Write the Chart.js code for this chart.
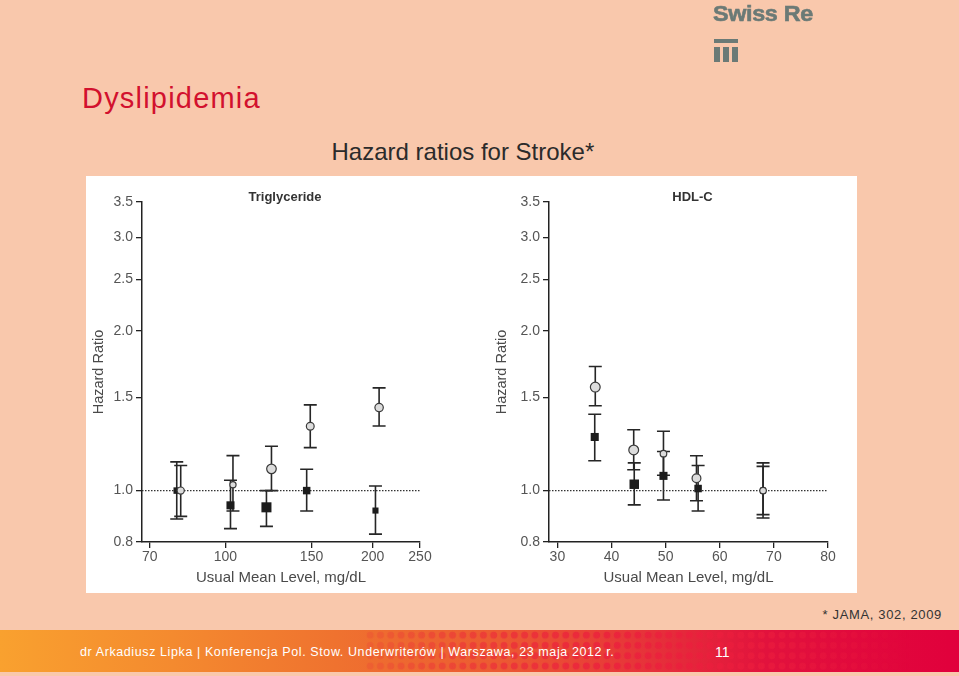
<!DOCTYPE html>
<html><head><meta charset="utf-8">
<script src="https://cdn.jsdelivr.net/npm/chart.js@4.4.1/dist/chart.umd.min.js"></script>
<style>
html,body{margin:0;padding:0;}
body{width:959px;height:676px;background:#F9C8AC;position:relative;overflow:hidden;font-family:"Liberation Sans",Arial,sans-serif;}
.abs{position:absolute;white-space:nowrap;}
#brand{left:713px;top:1.5px;font-weight:bold;font-size:22px;line-height:24px;letter-spacing:-0.3px;color:#6B7A76;-webkit-text-stroke:0.6px #6B7A76;transform:scaleX(1.06);transform-origin:left top;}
.lg{position:absolute;background:#6B7A76;}
#slideTitle{left:82px;top:83.5px;font-size:29px;line-height:29px;letter-spacing:1.2px;color:#D2112E;}
#chartTitle{left:331.5px;top:139.7px;font-size:24px;line-height:24px;color:#2b2b2b;}
#panel{left:86px;top:176px;width:771px;height:417px;background:#fff;}
#cL{position:absolute;left:86px;top:176px;}
#cR{position:absolute;left:489px;top:176px;}
#source{right:17px;top:607px;font-size:13px;line-height:16px;letter-spacing:0.65px;color:#333;}
#footer{left:0;top:630px;width:959px;height:42px;background:linear-gradient(90deg,#F9A12F 0%,#F48A2F 18%,#EF722F 35%,#EC5A32 52%,#E6313A 68%,#E2123D 80%,#E1003C 100%);}
#dots{left:365px;top:630px;width:545px;height:42px;
 background-image:radial-gradient(circle,rgba(236,30,62,0.75) 3.3px,rgba(236,30,62,0) 3.9px);
 background-size:10.3px 10.3px;background-position:0 0;
 -webkit-mask-image:linear-gradient(90deg,rgba(0,0,0,0.2) 0%,rgba(0,0,0,0.7) 25%,rgba(0,0,0,1) 45%,rgba(0,0,0,0.85) 72%,rgba(0,0,0,0) 100%);
 mask-image:linear-gradient(90deg,rgba(0,0,0,0.2) 0%,rgba(0,0,0,0.7) 25%,rgba(0,0,0,1) 45%,rgba(0,0,0,0.85) 72%,rgba(0,0,0,0) 100%);}
#footText{left:80px;top:644px;font-size:12.5px;line-height:16px;letter-spacing:0.6px;color:#fff;}
#pageNo{left:715px;top:643px;font-size:14px;line-height:18px;color:#fff;}
</style>
</head>
<body>
<div class="abs" id="brand">Swiss Re</div>
<div class="lg" style="left:714px;top:39px;width:23.5px;height:3.5px"></div>
<div class="lg" style="left:714px;top:46.5px;width:6px;height:15px"></div>
<div class="lg" style="left:723px;top:46.5px;width:6px;height:15px"></div>
<div class="lg" style="left:731.5px;top:46.5px;width:6px;height:15px"></div>
<div class="abs" id="slideTitle">Dyslipidemia</div>
<div class="abs" id="chartTitle">Hazard ratios for Stroke*</div>
<div class="abs" id="panel"></div>
<canvas id="cL" width="370" height="415"></canvas>
<canvas id="cR" width="375" height="415"></canvas>
<div class="abs" id="source">* JAMA, 302, 2009</div>
<div class="abs" id="footer"></div>
<div class="abs" id="dots"></div>
<div class="abs" id="footText">dr Arkadiusz Lipka | Konferencja Pol. Stow. Underwriterów | Warszawa, 23 maja 2012 r.</div>
<div class="abs" id="pageNo">11</div>
<script>
// ---- shared axis content ----
const hrTicks = [0.8, 1.0, 1.5, 2.0, 2.5, 3.0, 3.5];
const tgTicks = [70, 100, 150, 200, 250];
const hdlTicks = [30, 40, 50, 60, 70, 80];
const panelTitles = ['Triglyceride', 'HDL-C'];
const xAxisTitle = 'Usual Mean Level, mg/dL';
const yAxisTitle = 'Hazard Ratio';
const referenceHR = 1.0;

// ---- Triglyceride panel ----
const tgSquareX  = [79.5, 102.4, 121.3, 146.6, 202.7];
const tgSquareHR = [1.000, 0.938, 0.930, 1.000, 0.917];
const tgSquareLo = [0.884, 0.848, 0.856, 0.915, 0.828];
const tgSquareHi = [1.133, 1.046, 1.000, 1.097, 1.020];
const tgCircleX  = [81.0, 103.6, 124.2, 149.1, 206.2];
const tgCircleHR = [1.000, 1.026, 1.099, 1.322, 1.434];
const tgCircleLo = [0.894, 0.915, 1.000, 1.205, 1.324];
const tgCircleHi = [1.115, 1.164, 1.212, 1.451, 1.562];

// ---- HDL-C panel ----
const hdlSquareX  = [36.9, 44.2, 49.6, 56.0, 68.0];
const hdlSquareHR = [1.262, 1.028, 1.066, 1.009, 1.000];
const hdlSquareLo = [1.138, 0.940, 0.960, 0.915, 0.888];
const hdlSquareHi = [1.393, 1.128, 1.185, 1.115, 1.128];
const hdlCircleX  = [37.0, 44.1, 49.6, 55.7, 68.0];
const hdlCircleHR = [1.567, 1.193, 1.174, 1.055, 1.000];
const hdlCircleLo = [1.445, 1.095, 1.069, 0.957, 0.901];
const hdlCircleHi = [1.714, 1.302, 1.294, 1.163, 1.111];

// ---- marker sizes (style) ----
const tgSquareR  = [4.6, 5.7, 7.1, 5.3, 4.3];
const tgCircleR  = [3.6, 3.1, 4.8, 3.9, 4.2];
const hdlSquareR = [5.7, 6.7, 5.7, 5.3, 4.2];
const hdlCircleR = [4.9, 4.9, 3.3, 4.4, 3.3];

Chart.defaults.font.family = '"Liberation Sans", Arial, sans-serif';

const errorBars = {
  id: 'errorBars',
  beforeDatasetsDraw(chart) {
    const {ctx, scales: {x, y}} = chart;
    ctx.save();
    ctx.strokeStyle = '#262626';
    ctx.lineWidth = 1.6;
    const cap = 6.5;
    chart.data.datasets.forEach(ds => {
      if (!ds.errLo) return;
      ds.data.forEach((p, j) => {
        const px = x.getPixelForValue(p.x);
        const lo = y.getPixelForValue(ds.errLo[j]);
        const hi = y.getPixelForValue(ds.errHi[j]);
        ctx.beginPath();
        ctx.moveTo(px, lo); ctx.lineTo(px, hi);
        ctx.moveTo(px - cap, lo); ctx.lineTo(px + cap, lo);
        ctx.moveTo(px - cap, hi); ctx.lineTo(px + cap, hi);
        ctx.stroke();
      });
    });
    ctx.restore();
  }
};

const panelTitle = {
  id: 'panelTitle',
  afterDraw(chart, args, opts) {
    const {ctx, chartArea} = chart;
    ctx.save();
    ctx.font = 'bold 13px "Liberation Sans", Arial, sans-serif';
    ctx.fillStyle = '#333';
    ctx.textAlign = 'center';
    ctx.textBaseline = 'middle';
    ctx.fillText(opts.text, (chartArea.left + chartArea.right) / 2 + 4, chartArea.top - 5);
    ctx.restore();
  }
};

function makeChart(id, o) {
  const pts = (xs, ys) => xs.map((v, i) => ({x: v, y: ys[i]}));
  return new Chart(document.getElementById(id), {
    type: 'scatter',
    data: {
      datasets: [
        { label: 'circles', data: pts(o.cx, o.cy), errLo: o.clo, errHi: o.chi,
          pointStyle: 'circle', pointRadius: o.cr, backgroundColor: '#DCDCDC',
          borderColor: '#3a3a3a', borderWidth: 1.2 },
        { label: 'squares', data: pts(o.sx, o.sy), errLo: o.slo, errHi: o.shi,
          pointStyle: 'rect', pointRadius: o.sr, backgroundColor: '#1c1c1c',
          borderColor: '#1c1c1c', borderWidth: 0 },
        { label: 'reference', type: 'line',
          data: [{x: o.xMin, y: referenceHR}, {x: o.xMax, y: referenceHR}],
          borderColor: '#333', borderWidth: 1.3, borderDash: [1.5, 1.5],
          pointRadius: 0, fill: false }
      ]
    },
    options: {
      responsive: false, animation: false, events: [],
      layout: { padding: { top: 26, right: 36, left: 0, bottom: 0 } },
      plugins: { legend: { display: false }, tooltip: { enabled: false },
                 panelTitle: { text: o.title } },
      scales: {
        x: {
          type: o.xType, min: o.xMin, max: o.xMax,
          afterBuildTicks: s => { s.ticks = o.xTicks.map(v => ({value: v})); },
          afterFit: s => { s.height = 49; },
          ticks: { autoSkip: false, maxRotation: 0, color: '#555', font: {size: 14}, padding: 1,
                   callback: v => String(v) },
          grid: { drawOnChartArea: false, drawTicks: true, tickLength: 6, color: '#222', lineWidth: 1.3 },
          border: { display: true, color: '#222', width: 1.5 },
          title: { display: true, text: xAxisTitle, color: '#4a4a4a', font: {size: 15},
                   padding: {top: 4, bottom: 4} }
        },
        y: {
          type: 'logarithmic', min: 0.8, max: 3.5,
          afterBuildTicks: s => { s.ticks = hrTicks.map(v => ({value: v})); },
          afterFit: s => { s.width = o.yWidth; },
          ticks: { autoSkip: false, color: '#555', font: {size: 14}, padding: 3,
                   callback: v => Number(v).toFixed(1) },
          grid: { drawOnChartArea: false, drawTicks: true, tickLength: 6, color: '#222', lineWidth: 1.3 },
          border: { display: true, color: '#222', width: 1.5 },
          title: { display: true, text: yAxisTitle, color: '#4a4a4a', font: {size: 14.5},
                   padding: {top: 4, bottom: 4} }
        }
      }
    },
    plugins: [errorBars, panelTitle]
  });
}

makeChart('cL', {
  title: panelTitles[0], xType: 'logarithmic', xMin: 67.5, xMax: 250, xTicks: tgTicks, yWidth: 56,
  sx: tgSquareX, sy: tgSquareHR, slo: tgSquareLo, shi: tgSquareHi, sr: tgSquareR,
  cx: tgCircleX, cy: tgCircleHR, clo: tgCircleLo, chi: tgCircleHi, cr: tgCircleR
});
makeChart('cR', {
  title: panelTitles[1], xType: 'linear', xMin: 28.45, xMax: 80, xTicks: hdlTicks, yWidth: 60,
  sx: hdlSquareX, sy: hdlSquareHR, slo: hdlSquareLo, shi: hdlSquareHi, sr: hdlSquareR,
  cx: hdlCircleX, cy: hdlCircleHR, clo: hdlCircleLo, chi: hdlCircleHi, cr: hdlCircleR
});
</script>
</body></html>
